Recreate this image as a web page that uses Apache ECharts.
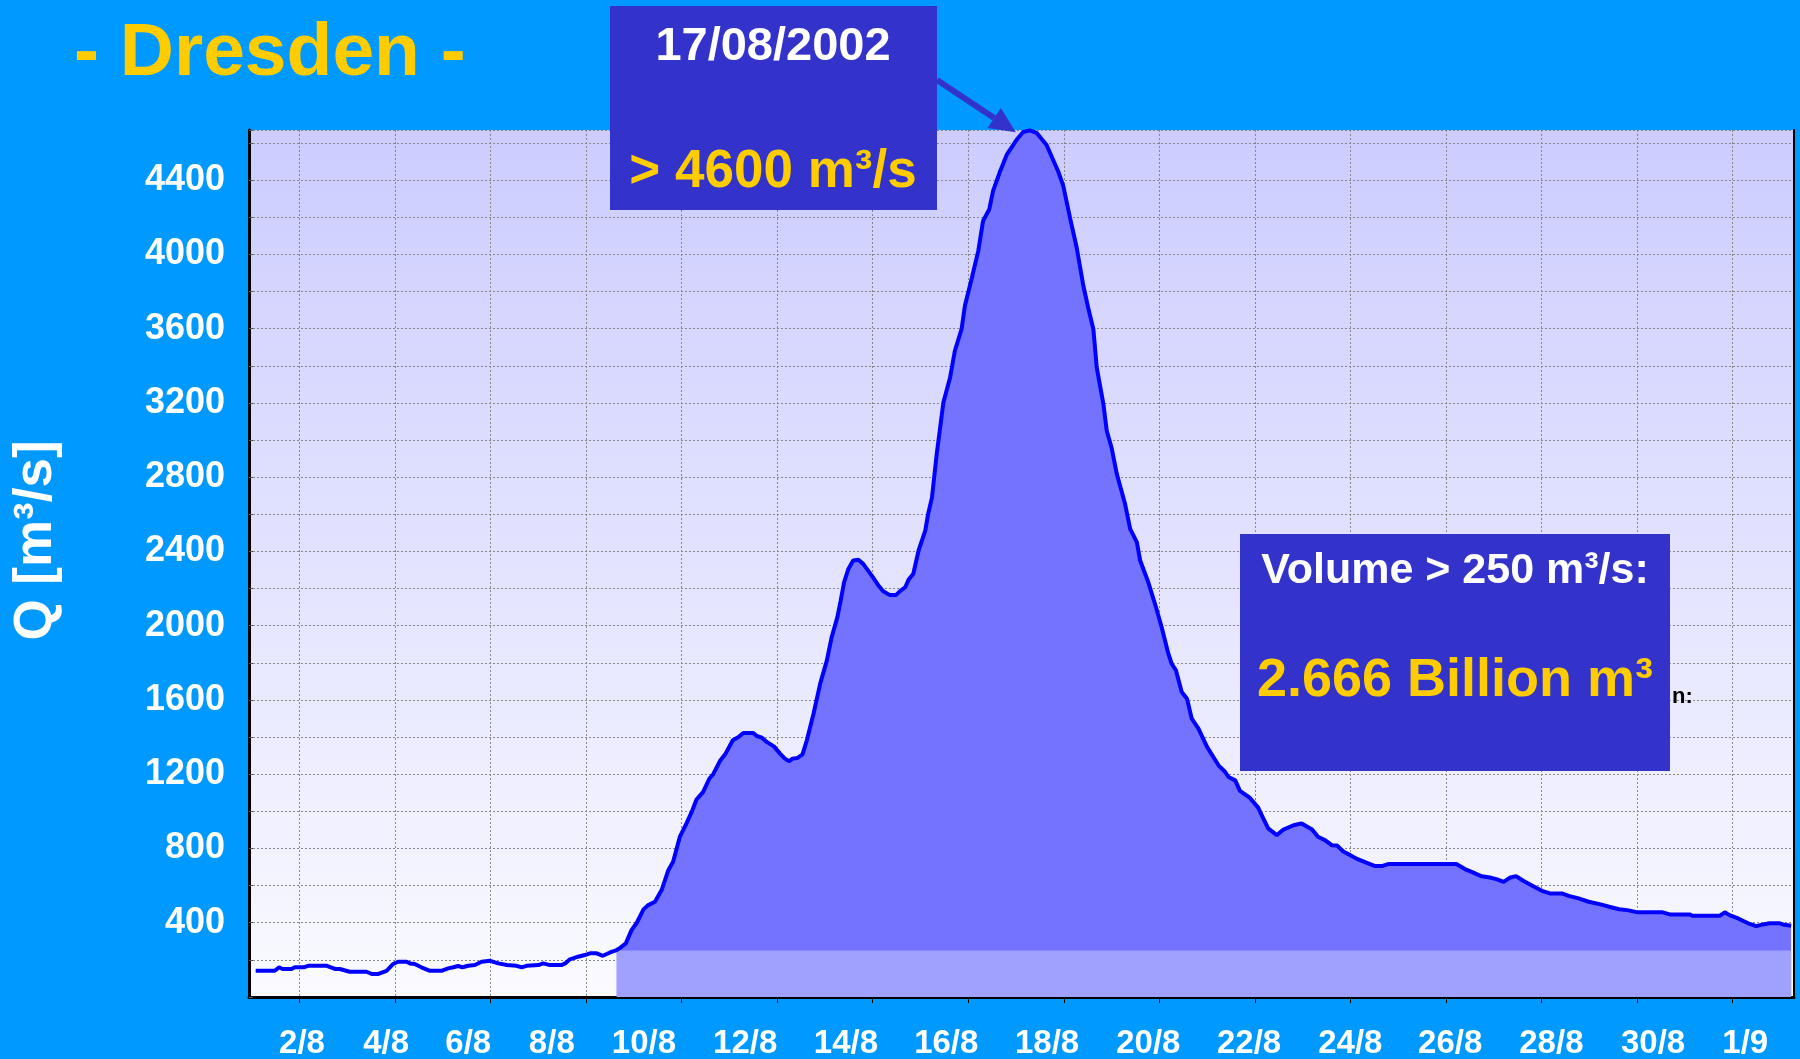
<!DOCTYPE html>
<html lang="en">
<head>
    <meta charset="UTF-8">
    <script src="https://cdn.jsdelivr.net/npm/echarts@6.0.0/dist/echarts.min.js"></script>
    <title>Dresden</title>
    <style>
        html, body { margin: 0; padding: 0; background: #0099ff; }
        #flood-chart { width: 1800px; height: 1059px; }
    </style>
</head>
<body>
    <div id="flood-chart"></div>
</body>
<script type="text/javascript">
    // time in days of August 2002 (32 = 1 Sept), discharge in m3/s
    var days = [
        1.08, 1.48, 1.57, 1.64, 1.83, 1.90, 2.08, 2.18, 2.57, 2.74, 2.84, 3.05, 3.40, 3.51, 3.65, 3.82, 3.96,
        4.06, 4.24, 4.31, 4.41, 4.55, 4.73, 4.97, 5.11, 5.22, 5.32, 5.41, 5.53, 5.67, 5.81, 5.99, 6.16, 6.34,
        6.54, 6.65, 6.75, 7.00, 7.10, 7.24, 7.49, 7.56, 7.66, 7.83, 7.97, 8.08, 8.22, 8.35, 8.50, 8.64, 8.71,
        8.83, 8.95, 9.06, 9.20, 9.30, 9.44, 9.58, 9.72, 9.82, 9.96, 10.10, 10.21, 10.31, 10.45, 10.58, 10.66,
        10.80, 10.91, 11.07, 11.19, 11.29, 11.50, 11.57, 11.68, 11.78, 11.93, 12.06, 12.16, 12.25, 12.32, 12.42,
        12.53, 12.62, 12.76, 12.90, 13.04, 13.14, 13.26, 13.33, 13.40, 13.49, 13.59, 13.70, 13.80, 13.98, 14.12,
        14.22, 14.35, 14.49, 14.57, 14.68, 14.75, 14.85, 14.96, 15.10, 15.16, 15.24, 15.34, 15.48, 15.62, 15.72,
        15.86, 15.93, 16.07, 16.21, 16.31, 16.44, 16.52, 16.67, 16.81, 17.02, 17.15, 17.29, 17.43, 17.64, 17.88,
        17.99, 18.13, 18.27, 18.41, 18.51, 18.62, 18.69, 18.83, 18.90, 19.00, 19.11, 19.28, 19.39, 19.53, 19.60,
        19.77, 19.91, 20.05, 20.19, 20.26, 20.35, 20.47, 20.58, 20.68, 20.82, 21.00, 21.24, 21.38, 21.45, 21.59,
        21.69, 21.90, 22.07, 22.18, 22.28, 22.46, 22.60, 22.81, 22.98, 23.09, 23.19, 23.33, 23.47, 23.61, 23.72,
        23.86, 24.00, 24.14, 24.31, 24.52, 24.66, 24.79, 26.22, 26.40, 26.54, 26.75, 26.92, 27.06, 27.21, 27.35,
        27.47, 27.62, 27.83, 28.01, 28.18, 28.43, 28.57, 28.78, 28.99, 29.24, 29.42, 29.63, 29.80, 30.02, 30.54,
        30.69, 31.10, 31.17, 31.73, 31.84, 31.94, 32.12, 32.33, 32.50, 32.64, 32.78, 32.99, 33.06, 33.23
    ];
    var flow = [
        141, 141, 160, 151, 151, 160, 160, 168, 168, 151, 151, 136, 136, 124, 124, 141, 178,
        190, 190, 181, 178, 160, 141, 141, 154, 160, 167, 160, 168, 172, 190, 195, 181, 172,
        168, 160, 168, 172, 181, 172, 172, 181, 203, 217, 226, 235, 235, 222, 240, 253, 265,
        289, 360, 400, 472, 495, 513, 576, 683, 728, 862, 935, 997, 1064, 1105, 1177, 1200,
        1271, 1307, 1383, 1400, 1422, 1422, 1406, 1397, 1374, 1350, 1311, 1284, 1270, 1284, 1287,
        1307, 1383, 1526, 1688, 1813, 1938, 2046, 2136, 2234, 2306, 2351, 2355, 2333, 2270, 2217,
        2186, 2166, 2166, 2186, 2207, 2247, 2280, 2405, 2512, 2602, 2690, 2925, 3203, 3337, 3481,
        3597, 3723, 3867, 4019, 4180, 4243, 4342, 4449, 4539, 4620, 4659, 4668, 4655, 4589, 4449,
        4369, 4198, 4037, 3831, 3714, 3597, 3391, 3194, 3050, 2960, 2818, 2660, 2522, 2450, 2351,
        2234, 2118, 1992, 1849, 1795, 1759, 1643, 1607, 1499, 1446, 1347, 1248, 1212, 1185, 1167,
        1110, 1072, 1020, 961, 908, 872, 902, 925, 935, 918, 904, 862, 845, 818, 816,
        782, 764, 744, 726, 705, 705, 716, 716, 689, 674, 650, 644, 635, 620, 644,
        651, 626, 597, 572, 558, 558, 545, 531, 513, 499, 486, 473, 468, 456, 456,
        445, 445, 437, 437, 456, 441, 423, 397, 382, 391, 397, 397, 391, 384
    ];
    var threshold = 250;

    // gridlines every 2 days, labels as printed on the slide
    var tickDays = [2, 4, 6, 8, 10, 12, 14, 16, 18, 20, 22, 24, 26, 28, 30, 32];
    var labelDays = [2.05, 3.81, 5.53, 7.28, 9.21, 11.33, 13.44, 15.54, 17.65, 19.77, 21.88, 24.0, 26.09, 28.21, 30.34, 32.27];
    var labelTexts = ['2/8', '4/8', '6/8', '8/8', '10/8', '12/8', '14/8', '16/8', '18/8', '20/8', '22/8', '24/8', '26/8', '28/8', '30/8', '1/9'];

    var font = '"Liberation Sans", Arial, sans-serif';
    var floodChart = echarts.init(document.getElementById('flood-chart'));

    var linePts = days.map(function (d, i) { return [d, flow[i]]; });
    // only the part above the threshold gets filled; the base band is painted over it
    var overPts = [], bandPts = [];
    days.forEach(function (d, i) {
        if (flow[i] > threshold) {
            overPts.push([d, flow[i]]);
            bandPts.push([d, threshold]);
        }
    });

    floodChart.setOption({
        animation: false,
        backgroundColor: '#0099ff',
        title: {
            text: '- Dresden -',
            left: 69,
            top: 12,
            textStyle: {color: '#ffcc00', fontSize: 75, fontWeight: 'bold', fontFamily: font}
        },
        grid: {
            left: 249, right: 6, top: 130, bottom: 62,
            outerBoundsMode: 'none',
            show: true,
            borderWidth: 0,
            backgroundColor: new echarts.graphic.LinearGradient(0, 0, 0, 1, [
                {offset: 0, color: '#ccccff'},
                {offset: 1, color: '#fafaff'}
            ])
        },
        xAxis: {
            type: 'value',
            min: 0.94,
            max: 33.29,
            axisLine: {show: true, onZero: false, lineStyle: {color: '#000', width: 3}},
            axisTick: {show: true, customValues: tickDays, length: 6, lineStyle: {color: '#000'}},
            axisLabel: {
                customValues: labelDays,
                margin: 30,
                color: '#fff',
                fontSize: 33,
                fontWeight: 'bold',
                fontFamily: font,
                formatter: function (v) {
                    var k = labelDays.indexOf(v);
                    return k >= 0 ? labelTexts[k] : '';
                }
            },
            splitLine: {show: true, lineStyle: {color: '#888', type: [2, 2], width: 1}}
        },
        yAxis: [{
            type: 'value',
            min: 0,
            max: 4670,
            interval: 200,
            name: 'Q [m³/s]',
            nameLocation: 'middle',
            nameRotate: 90,
            nameGap: 186,
            nameTextStyle: {color: '#fff', fontSize: 53, fontWeight: 'bold', fontFamily: font, padding: [0, 0, 0, 46]},
            axisLine: {show: true, lineStyle: {color: '#000', width: 3}},
            axisTick: {show: true, inside: true, length: 4, lineStyle: {color: '#555'}},
            axisLabel: {
                margin: 24,
                color: '#fff',
                fontSize: 36,
                fontWeight: 'bold',
                fontFamily: font,
                formatter: function (v) { return (v > 0 && v % 400 === 0) ? String(v) : ''; }
            },
            splitLine: {show: true, lineStyle: {color: '#888', type: [2, 2], width: 1}}
        }, {
            type: 'value',
            position: 'right',
            min: 0,
            max: 4670,
            axisLine: {show: true, lineStyle: {color: '#000', width: 2}},
            axisTick: {show: false},
            axisLabel: {show: false},
            splitLine: {show: false}
        }],
        series: [{
            name: 'Volume > 250',
            type: 'line',
            data: overPts,
            symbol: 'none',
            lineStyle: {width: 0},
            areaStyle: {color: '#7373ff', opacity: 1},
            z: 1
        }, {
            name: 'Base',
            type: 'line',
            data: bandPts,
            symbol: 'none',
            lineStyle: {width: 0},
            areaStyle: {color: '#a0a0ff', opacity: 1},
            z: 2
        }, {
            name: 'Q',
            type: 'line',
            data: linePts,
            symbol: 'none',
            lineStyle: {color: '#0000ff', width: 4},
            z: 3
        }]
    });

    // arrow from the date box down to the peak
    var peakIdx = flow.indexOf(Math.max.apply(null, flow));
    var peakPx = floodChart.convertToPixel({seriesIndex: 2}, [days[peakIdx], flow[peakIdx]]);
    var start = [937, 80];
    var tip = [peakPx[0] - 14, peakPx[1] + 2];
    var dx = tip[0] - start[0], dy = tip[1] - start[1];
    var len = Math.sqrt(dx * dx + dy * dy);
    var ux = dx / len, uy = dy / len;
    var headLen = 26, headW = 12;
    var base = [tip[0] - ux * headLen, tip[1] - uy * headLen];

    floodChart.setOption({
        graphic: [
            {type: 'rect', z: 100, shape: {x: 610, y: 6, width: 327, height: 204}, style: {fill: '#3333cc'}},
            {type: 'text', z: 101, x: 773, y: 47, style: {text: '17/08/2002', fill: '#fff', font: 'bold 47px ' + font, align: 'center', verticalAlign: 'middle'}},
            {type: 'text', z: 101, x: 773, y: 172, style: {text: '> 4600 m³/s', fill: '#ffcc00', font: 'bold 53px ' + font, align: 'center', verticalAlign: 'middle'}},
            {type: 'line', z: 100, shape: {x1: start[0], y1: start[1], x2: base[0], y2: base[1]}, style: {stroke: '#3333cc', lineWidth: 6}},
            {type: 'polygon', z: 100, shape: {points: [
                tip,
                [base[0] - uy * headW, base[1] + ux * headW],
                [base[0] + uy * headW, base[1] - ux * headW]
            ]}, style: {fill: '#3333cc'}},
            {type: 'text', z: 99, x: 1672, y: 697, style: {text: 'n:', fill: '#000', font: 'bold 22px ' + font, verticalAlign: 'middle'}},
            {type: 'rect', z: 100, shape: {x: 1240, y: 534, width: 430, height: 237}, style: {fill: '#3333cc'}},
            {type: 'text', z: 101, x: 1455, y: 571, style: {text: 'Volume > 250 m³/s:', fill: '#fff', font: 'bold 43px ' + font, align: 'center', verticalAlign: 'middle'}},
            {type: 'text', z: 101, x: 1455, y: 681, style: {text: '2.666 Billion m³', fill: '#ffcc00', font: 'bold 54px ' + font, align: 'center', verticalAlign: 'middle'}}
        ]
    });
</script>
</html>
